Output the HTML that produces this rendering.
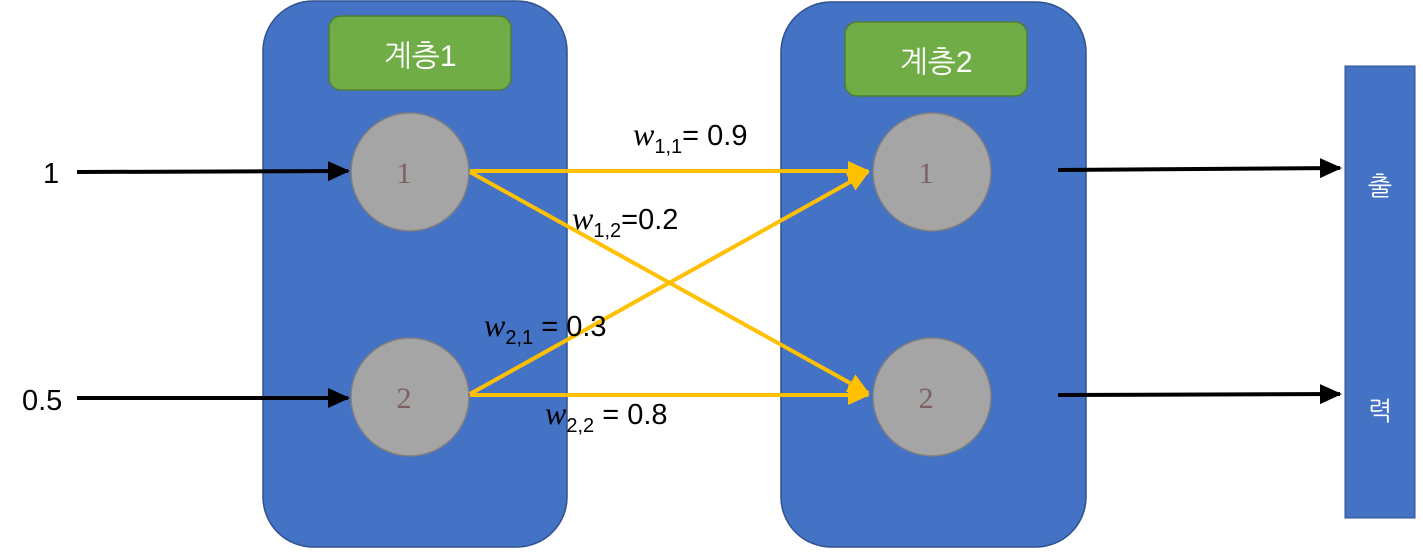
<!DOCTYPE html>
<html><head><meta charset="utf-8"><style>
body{margin:0;width:1423px;height:549px;background:#fff;overflow:hidden}
</style></head><body>
<svg width="1423" height="549" viewBox="0 0 1423 549" xmlns="http://www.w3.org/2000/svg">
<defs>
<marker id="ab" markerWidth="6" markerHeight="6" refX="5" refY="3" orient="auto" markerUnits="strokeWidth"><path d="M0,0.5 L5.5,3 L0,5.5 z" fill="#000"/></marker>
<marker id="ay" markerWidth="6" markerHeight="6" refX="5" refY="3" orient="auto" markerUnits="strokeWidth"><path d="M0,0.5 L5.5,3 L0,5.5 z" fill="#FFC000"/></marker>
</defs>
<rect x="263" y="1" width="304" height="546" rx="50" fill="#4472C4" stroke="#2F528F" stroke-width="1.5"/>
<rect x="781" y="2" width="305" height="545" rx="50" fill="#4472C4" stroke="#2F528F" stroke-width="1.5"/>
<rect x="329" y="16" width="182" height="74" rx="12" fill="#70AD47" stroke="#507E32" stroke-width="1.5"/>
<rect x="845" y="22" width="182" height="74" rx="12" fill="#70AD47" stroke="#507E32" stroke-width="1.5"/>
<text x="420" y="66" font-family="Liberation Sans, NanumGothic, sans-serif" font-size="30" fill="#fff" text-anchor="middle">계층1</text>
<text x="936" y="72" font-family="Liberation Sans, NanumGothic, sans-serif" font-size="30" fill="#fff" text-anchor="middle">계층2</text>
<rect x="1345" y="66" width="70" height="452" fill="#4472C4" stroke="#2F528F" stroke-width="1"/>
<text x="1380" y="195" font-family="NanumGothic, sans-serif" font-size="26" fill="#fff" text-anchor="middle">출</text>
<text x="1380" y="420" font-family="NanumGothic, sans-serif" font-size="26" fill="#fff" text-anchor="middle">력</text>
<g fill="#A5A5A5" stroke="#7F7F7F" stroke-width="1.5">
<circle cx="410" cy="172" r="59"/><circle cx="410" cy="397" r="59"/>
<circle cx="932" cy="172" r="59"/><circle cx="932" cy="397" r="59"/>
</g>
<g font-family="Liberation Serif, serif" font-size="30" fill="#7F6060" text-anchor="middle">
<text x="404" y="183">1</text><text x="404" y="408">2</text>
<text x="926" y="183">1</text><text x="926" y="408">2</text>
</g>
<g stroke="#000" stroke-width="4" marker-end="url(#ab)">
<line x1="77" y1="172" x2="348" y2="171"/>
<line x1="77" y1="398" x2="348" y2="398"/>
<line x1="1058" y1="170" x2="1340" y2="168"/>
<line x1="1058" y1="395" x2="1340" y2="394"/>
</g>
<g stroke="#FFC000" stroke-width="4" marker-end="url(#ay)">
<line x1="470" y1="171" x2="868" y2="171"/>
<line x1="470" y1="172" x2="868" y2="393"/>
<line x1="470" y1="394" x2="868" y2="172"/>
<line x1="470" y1="395" x2="868" y2="395"/>
</g>
<g font-family="Liberation Sans, sans-serif" font-size="29" fill="#000">
<text x="43" y="183">1</text>
<text x="22" y="410">0.5</text>
<text x="633" y="145"><tspan font-family="Liberation Serif, serif" font-style="italic" font-size="32">w</tspan><tspan font-size="20" dy="8">1,1</tspan><tspan dy="-8">=  0.9</tspan></text>
<text x="572" y="229"><tspan font-family="Liberation Serif, serif" font-style="italic" font-size="32">w</tspan><tspan font-size="20" dy="8">1,2</tspan><tspan dy="-8">=0.2</tspan></text>
<text x="484" y="336"><tspan font-family="Liberation Serif, serif" font-style="italic" font-size="32">w</tspan><tspan font-size="20" dy="8">2,1</tspan><tspan dy="-8">  =  0.3</tspan></text>
<text x="545" y="424"><tspan font-family="Liberation Serif, serif" font-style="italic" font-size="32">w</tspan><tspan font-size="20" dy="8">2,2</tspan><tspan dy="-8">  =  0.8</tspan></text>
</g>
</svg>
</body></html>
